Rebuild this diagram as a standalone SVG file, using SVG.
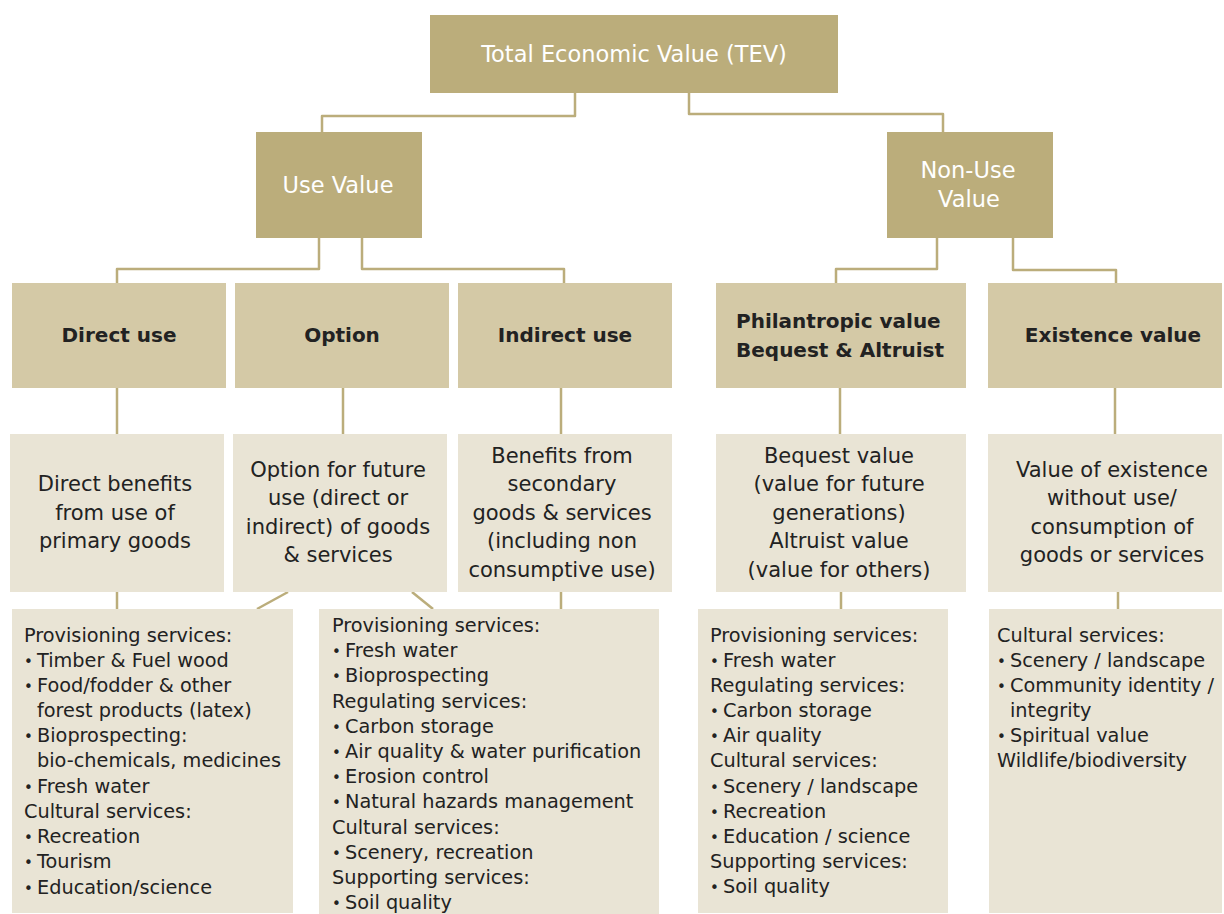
<svg xmlns="http://www.w3.org/2000/svg" width="1224" height="914" viewBox="0 0 1224 914">
<style>
  .dark { fill: #BBAD7B; }
  .mid { fill: #D4C9A6; }
  .light { fill: #E9E4D5; }
  .wt { font-family: "DejaVu Sans", "Liberation Sans", sans-serif; font-size: 22.5px; fill: #FFFFFF; text-anchor: middle; }
  .hd { font-family: "DejaVu Sans", "Liberation Sans", sans-serif; font-size: 20px; font-weight: bold; fill: #222222; text-anchor: middle; }
  .hs { font-family: "DejaVu Sans", "Liberation Sans", sans-serif; font-size: 20px; font-weight: bold; fill: #222222; text-anchor: start; }
  .ds { font-family: "DejaVu Sans", "Liberation Sans", sans-serif; font-size: 21px; fill: #222222; text-anchor: middle; }
  .ls { font-family: "DejaVu Sans", "Liberation Sans", sans-serif; font-size: 19.3px; fill: #222222; }
  .b { font-size: 15px; }
  .conn { fill: none; stroke: #BBAD7B; stroke-width: 2.5; stroke-linejoin: round; }
</style>

<g id="connectors">
  <path class="conn" d="M575,93 V116 H322 V132"/>
  <path class="conn" d="M689,93 V114 H943 V132"/>
  <path class="conn" d="M319,238 V269 H117 V283"/>
  <path class="conn" d="M362,238 V269 H564 V283"/>
  <path class="conn" d="M937,238 V269 H836 V283"/>
  <path class="conn" d="M1013,238 V270 H1116 V283"/>
  <path class="conn" d="M117,388 V434"/>
  <path class="conn" d="M343,388 V434"/>
  <path class="conn" d="M561,388 V434"/>
  <path class="conn" d="M840,388 V434"/>
  <path class="conn" d="M1115,388 V434"/>
  <path class="conn" d="M117,592 V609"/>
  <path class="conn" d="M288,592 L257,609"/>
  <path class="conn" d="M412,592 L433,609"/>
  <path class="conn" d="M561,592 V609"/>
  <path class="conn" d="M841,592 V609"/>
  <path class="conn" d="M1118,592 V609"/>
</g>

<g id="tev">
  <rect class="dark" x="430" y="15" width="408" height="78"/>
  <text class="wt" x="634" y="62">Total Economic Value (TEV)</text>
</g>

<g id="use-value">
  <rect class="dark" x="256" y="132" width="166" height="106"/>
  <text class="wt" x="338" y="193">Use Value</text>
</g>

<g id="non-use-value">
  <rect class="dark" x="887" y="132" width="166" height="106"/>
  <text class="wt" x="968" y="178">Non-Use</text>
  <text class="wt" x="969" y="207">Value</text>
</g>

<g id="direct-use">
  <rect class="mid" x="12" y="283" width="214" height="105"/>
  <text class="hd" x="119" y="342">Direct use</text>
</g>
<g id="option">
  <rect class="mid" x="235" y="283" width="214" height="105"/>
  <text class="hd" x="342" y="342">Option</text>
</g>
<g id="indirect-use">
  <rect class="mid" x="458" y="283" width="214" height="105"/>
  <text class="hd" x="565" y="342">Indirect use</text>
</g>
<g id="philantropic">
  <rect class="mid" x="716" y="283" width="250" height="105"/>
  <text class="hs" x="736" y="328">Philantropic value</text>
  <text class="hs" x="736" y="357">Bequest &amp; Altruist</text>
</g>
<g id="existence">
  <rect class="mid" x="988" y="283" width="234" height="105"/>
  <text class="hd" x="1113" y="342">Existence value</text>
</g>

<g id="direct-desc">
  <rect class="light" x="10" y="434" width="214" height="158"/>
  <text class="ds" x="115" y="491">Direct benefits</text>
  <text class="ds" x="115" y="520">from use of</text>
  <text class="ds" x="115" y="548">primary goods</text>
</g>
<g id="option-desc">
  <rect class="light" x="233" y="434" width="214" height="158"/>
  <text class="ds" x="338" y="477">Option for future</text>
  <text class="ds" x="338" y="505">use (direct or</text>
  <text class="ds" x="338" y="534">indirect) of goods</text>
  <text class="ds" x="338" y="562">&amp; services</text>
</g>
<g id="indirect-desc">
  <rect class="light" x="458" y="434" width="214" height="158"/>
  <text class="ds" x="562" y="463">Benefits from</text>
  <text class="ds" x="562" y="491">secondary</text>
  <text class="ds" x="562" y="520">goods &amp; services</text>
  <text class="ds" x="562" y="548">(including non</text>
  <text class="ds" x="562" y="577">consumptive use)</text>
</g>
<g id="bequest-desc">
  <rect class="light" x="716" y="434" width="250" height="158"/>
  <text class="ds" x="839" y="463">Bequest value</text>
  <text class="ds" x="839" y="491">(value for future</text>
  <text class="ds" x="839" y="520">generations)</text>
  <text class="ds" x="839" y="548">Altruist value</text>
  <text class="ds" x="839" y="577">(value for others)</text>
</g>
<g id="existence-desc">
  <rect class="light" x="988" y="434" width="234" height="158"/>
  <text class="ds" x="1112" y="477">Value of existence</text>
  <text class="ds" x="1112" y="505">without use/</text>
  <text class="ds" x="1112" y="534">consumption of</text>
  <text class="ds" x="1112" y="562">goods or services</text>
</g>

<g id="direct-services">
  <rect class="light" x="12" y="609" width="281" height="304"/>
  <text class="ls" x="24" y="642">Provisioning services:</text>
  <text class="ls" y="667"><tspan class="b" x="24">•</tspan><tspan x="37">Timber &amp; Fuel wood</tspan></text>
  <text class="ls" y="692"><tspan class="b" x="24">•</tspan><tspan x="37">Food/fodder &amp; other</tspan></text>
  <text class="ls" x="37" y="717">forest products (latex)</text>
  <text class="ls" y="742"><tspan class="b" x="24">•</tspan><tspan x="37">Bioprospecting:</tspan></text>
  <text class="ls" x="37" y="767">bio-chemicals, medicines</text>
  <text class="ls" y="793"><tspan class="b" x="24">•</tspan><tspan x="37">Fresh water</tspan></text>
  <text class="ls" x="24" y="818">Cultural services:</text>
  <text class="ls" y="843"><tspan class="b" x="24">•</tspan><tspan x="37">Recreation</tspan></text>
  <text class="ls" y="868"><tspan class="b" x="24">•</tspan><tspan x="37">Tourism</tspan></text>
  <text class="ls" y="894"><tspan class="b" x="24">•</tspan><tspan x="37">Education/science</tspan></text>
</g>

<g id="option-indirect-services">
  <rect class="light" x="319" y="609" width="340" height="305"/>
  <text class="ls" x="332" y="632">Provisioning services:</text>
  <text class="ls" y="657"><tspan class="b" x="332">•</tspan><tspan x="345">Fresh water</tspan></text>
  <text class="ls" y="682"><tspan class="b" x="332">•</tspan><tspan x="345">Bioprospecting</tspan></text>
  <text class="ls" x="332" y="708">Regulating services:</text>
  <text class="ls" y="733"><tspan class="b" x="332">•</tspan><tspan x="345">Carbon storage</tspan></text>
  <text class="ls" y="758"><tspan class="b" x="332">•</tspan><tspan x="345">Air quality &amp; water purification</tspan></text>
  <text class="ls" y="783"><tspan class="b" x="332">•</tspan><tspan x="345">Erosion control</tspan></text>
  <text class="ls" y="808"><tspan class="b" x="332">•</tspan><tspan x="345">Natural hazards management</tspan></text>
  <text class="ls" x="332" y="834">Cultural services:</text>
  <text class="ls" y="859"><tspan class="b" x="332">•</tspan><tspan x="345">Scenery, recreation</tspan></text>
  <text class="ls" x="332" y="884">Supporting services:</text>
  <text class="ls" y="909"><tspan class="b" x="332">•</tspan><tspan x="345">Soil quality</tspan></text>
</g>

<g id="bequest-services">
  <rect class="light" x="698" y="609" width="250" height="304"/>
  <text class="ls" x="710" y="642">Provisioning services:</text>
  <text class="ls" y="667"><tspan class="b" x="710">•</tspan><tspan x="723">Fresh water</tspan></text>
  <text class="ls" x="710" y="692">Regulating services:</text>
  <text class="ls" y="717"><tspan class="b" x="710">•</tspan><tspan x="723">Carbon storage</tspan></text>
  <text class="ls" y="742"><tspan class="b" x="710">•</tspan><tspan x="723">Air quality</tspan></text>
  <text class="ls" x="710" y="767">Cultural services:</text>
  <text class="ls" y="793"><tspan class="b" x="710">•</tspan><tspan x="723">Scenery / landscape</tspan></text>
  <text class="ls" y="818"><tspan class="b" x="710">•</tspan><tspan x="723">Recreation</tspan></text>
  <text class="ls" y="843"><tspan class="b" x="710">•</tspan><tspan x="723">Education / science</tspan></text>
  <text class="ls" x="710" y="868">Supporting services:</text>
  <text class="ls" y="893"><tspan class="b" x="710">•</tspan><tspan x="723">Soil quality</tspan></text>
</g>

<g id="existence-services">
  <rect class="light" x="989" y="609" width="233" height="304"/>
  <text class="ls" x="997" y="642">Cultural services:</text>
  <text class="ls" y="667"><tspan class="b" x="997">•</tspan><tspan x="1010">Scenery / landscape</tspan></text>
  <text class="ls" y="692"><tspan class="b" x="997">•</tspan><tspan x="1010">Community identity /</tspan></text>
  <text class="ls" x="1010" y="717">integrity</text>
  <text class="ls" y="742"><tspan class="b" x="997">•</tspan><tspan x="1010">Spiritual value</tspan></text>
  <text class="ls" x="997" y="767">Wildlife/biodiversity</text>
</g>
</svg>
